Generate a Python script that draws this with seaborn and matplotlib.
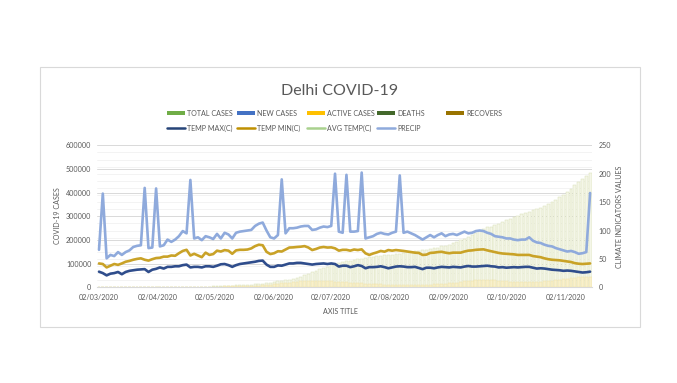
import numpy as np
import pandas as pd
import matplotlib
matplotlib.use('Agg')
import matplotlib.pyplot as plt
import seaborn as sns
from matplotlib.patches import Rectangle
from matplotlib.lines import Line2D
from matplotlib.ticker import MultipleLocator, StrMethodFormatter

# ---------------- data (every 2 days from 02/03/2020) ----------------
start_date = '2020-03-02'

total_cases = [1, 3, 3, 3, 4, 6, 7, 7, 10, 17,
               29, 30, 36, 40, 72, 152, 386, 503, 576, 720,
               1069, 1154, 1561, 1707, 1893, 2156, 2376, 2625, 2918, 3314,
               3515, 4549, 5104, 5532, 6318, 7233, 7998, 8895, 9755, 10554,
               11659, 12910, 14053, 15257, 17386, 19844, 22132, 25004, 27654, 29943,
               32810, 36824, 41182, 44688, 49979, 56746, 62655, 70390, 77240, 83077,
               87360, 92175, 97200, 100823, 104864, 109140, 112494, 115346, 118645, 121582,
               123747, 126323, 128389, 130606, 132275, 134403, 136716, 138482, 140232, 142723,
               145427, 147391, 149460, 151928, 153367, 156139, 158604, 161466, 164071, 167604,
               173390, 174748, 179569, 185220, 191449, 201174, 205482, 214069, 221533, 230269,
               238828, 246711, 253075, 256789, 264450, 267822, 277025, 282752, 290613, 295236,
               300833, 308000, 313000, 318000, 325000, 331000, 337000, 344000, 352000, 360000,
               370000, 381000, 392000, 403000, 417000, 431000, 445000, 459000, 472000, 482000]

active_cases = [1, 2, 2, 2, 3, 5, 5, 5, 7, 14,
                23, 24, 29, 30, 61, 140, 360, 470, 540, 680,
                1020, 1100, 1480, 1580, 1750, 1990, 2200, 2360, 2470, 2790,
                2290, 3220, 3380, 3500, 4000, 4800, 5100, 5400, 5600, 5700,
                6100, 6900, 7500, 8200, 9100, 10900, 12300, 14500, 16100, 17100,
                19600, 22000, 24000, 25000, 26600, 28300, 27800, 27500, 27000, 26300,
                26000, 25000, 24000, 22700, 21600, 21100, 19600, 18700, 17800, 16400,
                15300, 14900, 13700, 12700, 11900, 10800, 10400, 10200, 10200, 10100,
                10300, 10800, 11000, 10800, 10800, 11100, 11400, 11800, 12500, 13500,
                14600, 15000, 16500, 17900, 20000, 22700, 24600, 27600, 28600, 30900,
                32000, 32300, 31600, 30600, 28900, 27500, 26100, 25500, 23800, 22600,
                22000, 22500, 21800, 21200, 22000, 23100, 24500, 25600, 26500, 27600,
                29000, 31500, 33500, 35900, 37300, 40100, 41900, 42600, 44300, 44400]

temp_max = [27.5, 25, 21, 24, 25, 27, 23, 27, 29, 30,
            31, 31.5, 32, 27, 31, 32.5, 35, 33, 36, 36,
            37, 37, 39, 40, 35, 36, 36, 35, 37, 37,
            36, 38, 40.5, 41, 39, 36, 39, 41, 42, 43,
            44, 45, 46.5, 47, 40, 36, 36, 38.5, 38, 40,
            42, 42, 43, 43, 42, 41, 40, 41, 41.5, 42,
            41, 42, 41, 36.5, 38, 38, 35.5, 37, 39, 37.5,
            33.5, 35.5, 35.5, 36, 37, 35.5, 33.5, 35, 36.5, 37,
            36.5, 35.5, 35.5, 36, 34, 32, 34.5, 34.5, 33.5, 35,
            36, 35.5, 35, 36, 35.5, 35, 36.5, 37.5, 36.5, 36.5,
            37, 37.5, 38, 37, 36.5, 35, 35.5, 34.5, 35, 35.5,
            35, 35.5, 36, 36, 34.5, 33, 33.5, 33, 32, 31,
            30.5, 30, 29, 29.5, 29, 28, 27, 26, 26.5, 27.5]

temp_min = [42, 41, 35, 38, 41, 39.5, 42, 45, 46.5, 48.5,
            50, 51, 48.5, 47, 49.5, 51.5, 52, 54, 54, 56,
            55.5, 60, 64, 66, 56, 59, 56, 53, 61, 57,
            58.5, 64.5, 63, 65.5, 64.5, 59, 65, 66, 66, 66.5,
            68.5, 72.5, 75, 74, 62.5, 58.5, 60, 63.5, 63, 66.5,
            70, 70.3, 71, 71.5, 72.5, 70, 65.6, 67.5, 70, 71,
            70, 70.3, 68.6, 64.5, 66, 66, 64.5, 66.5, 65.6, 66.8,
            59.8, 57, 59.5, 61.5, 64, 62.7, 65.6, 64.5, 65.6, 64.8,
            64, 63, 62, 61, 60.5, 57, 57.5, 60.5, 61, 62,
            62.5, 61, 60, 61, 61, 61, 63, 64.5, 65, 66,
            66.5, 66.8, 65, 63.5, 62, 60.5, 59.5, 59, 58.5, 58,
            57, 57, 57, 57, 55, 54, 53, 51, 49.5, 48.5,
            48, 47.5, 46.5, 45.5, 44.5, 42.5, 41.5, 41, 41.5, 42]

precip = [66, 165, 51, 57, 55, 62, 57, 62, 65, 71,
          73, 74, 175, 69, 70, 174, 72, 74, 84, 80,
          84, 90, 99, 95, 189, 86, 88, 83, 90, 88,
          85, 94, 86, 96, 93, 86, 96, 98, 99, 100,
          101, 108, 112, 114, 100, 88, 86, 92, 190, 95,
          104, 104, 105, 107, 108, 108, 101, 102, 105, 107,
          106, 108, 200, 98, 96, 198, 98, 98, 99, 202,
          86, 88, 90, 94, 96, 94, 93, 96, 98, 197,
          96, 98, 95, 92, 88, 84, 88, 92, 88, 92,
          95, 90, 93, 94, 92, 95, 98, 95, 96, 99,
          100, 99, 96, 94, 90, 89, 88, 86, 86, 84,
          83, 84, 84, 88, 82, 79, 78, 75, 73, 72,
          69, 67, 65, 63, 64, 62, 59, 60, 62, 166]

tick_dates = ['2020-03-02', '2020-04-02', '2020-05-02', '2020-06-02', '2020-07-02',
              '2020-08-02', '2020-09-02', '2020-10-02', '2020-11-02']
tick_labels = ['02/03/2020', '02/04/2020', '02/05/2020', '02/06/2020', '02/07/2020',
               '02/08/2020', '02/09/2020', '02/10/2020', '02/11/2020']

bar_names = ['TOTAL CASES', 'NEW CASES', 'ACTIVE CASES', 'DEATHS', 'RECOVERS']
bar_colors = ['#70ad47', '#4472c4', '#ffc000', '#43682b', '#997300']
line_names = ['TEMP MAX(C)', 'TEMP MIN(C)', 'AVG TEMP(C)', 'PRECIP']
line_colors = ['#264478', '#bf9000', '#a9d18e', '#8faadc']

title = 'Delhi COVID-19'
left_title = 'COVID-19 CASES'
right_title = 'CLIMATE INDICATORS VALUES'
x_title = 'AXIS TITLE'

# ---------------- figure ----------------
sns.set_style('white')
plt.rcParams['font.family'] = ['Lato', 'DejaVu Sans']
TXT = '#595959'
FS = 5.1

W, H = 677, 383
fig = plt.figure(figsize=(W / 100, H / 100), dpi=100)
fig.patch.set_facecolor('white')


def fx(px):
    return px / W


def fy(py):
    return 1 - py / H


fig.add_artist(Rectangle((fx(40), fy(327)), fx(640) - fx(40), fy(67) - fy(327),
                         transform=fig.transFigure, fill=False,
                         edgecolor='#d9d9d9', linewidth=0.8))

ax1 = fig.add_axes([fx(97), fy(287.3), (592 - 97) / W, 142 / H])
ax2 = ax1.twinx()

start = pd.Timestamp(start_date)
dates = pd.date_range(start_date, periods=len(precip), freq='2D')
days = np.asarray((dates - start).days)
df = pd.DataFrame({'day': days, 'total': total_cases, 'active': active_cases,
                   'tmax': temp_max, 'tmin': temp_min, 'precip': precip})

sns.barplot(data=df, x='day', y='total', native_scale=True, orient='x', ax=ax1,
            color='#f4f6e8', edgecolor='#d9e0b6', linewidth=0.35, width=0.75,
            saturation=1, errorbar=None, zorder=2)
sns.barplot(data=df, x='day', y='active', native_scale=True, orient='x', ax=ax1,
            color='#f8f0cc', edgecolor='#eee0a6', linewidth=0.35, width=0.75,
            saturation=1, errorbar=None, zorder=3)

sns.lineplot(data=df, x='day', y='precip', ax=ax2, color=line_colors[3], linewidth=1.9)
sns.lineplot(data=df, x='day', y='tmin', ax=ax2, color='#c9a227', linewidth=1.9)
sns.lineplot(data=df, x='day', y='tmax', ax=ax2, color='#2f4d8c', linewidth=1.9)

ax1.set_xlim(-1.05, 259.0)
ax1.set_ylim(0, 600000)
ax2.set_ylim(0, 250)

tick_days = [(pd.Timestamp(d) - start).days for d in tick_dates]
ax1.set_xticks(tick_days)
ax1.set_xticklabels(tick_labels)
ax1.set_yticks(np.arange(0, 600001, 100000))
ax1.yaxis.set_major_formatter(StrMethodFormatter('{x:.0f}'))
ax1.yaxis.set_minor_locator(MultipleLocator(30000))
ax1.grid(axis='y', which='major', color='#d9d9d9', linewidth=0.7)
ax1.grid(axis='y', which='minor', color='#eeeeee', linewidth=0.5)
ax1.grid(axis='x', visible=False)
ax1.set_axisbelow(True)
ax1.tick_params(axis='both', which='both', length=0, labelsize=FS, labelcolor=TXT)
ax1.tick_params(axis='y', pad=4)
ax1.tick_params(axis='x', pad=5)
ax2.set_yticks(np.arange(0, 251, 50))
ax2.tick_params(axis='y', length=0, labelsize=FS, labelcolor=TXT, pad=4.5)
ax2.grid(False)

for s in ax1.spines.values():
    s.set_visible(False)
ax1.spines['bottom'].set_visible(True)
ax1.spines['bottom'].set_color('#d9d9d9')
for s in ax2.spines.values():
    s.set_visible(False)
for a in (ax1, ax2):
    a.set_xlabel('')
    a.set_ylabel('')
ax2.patch.set_visible(False)

# titles
fig.text(fx(340), fy(91), title, ha='center', va='center', fontsize=11.5, color=TXT)
fig.text(fx(58), fy(216), left_title, rotation=90, ha='center', va='center',
         fontsize=FS, color=TXT)
fig.text(fx(620), fy(216.7), right_title, rotation=90, ha='center', va='center',
         fontsize=FS, color=TXT)
fig.text(fx(340), fy(311), x_title, ha='center', va='center', fontsize=FS, color=TXT)

# legend (manual, Excel style)
row1_x = [167, 237, 307, 377, 446]
row2_x = [167, 237, 307, 377]
r1, r2 = 113.3, 128.3
for x0, name, col in zip(row1_x, bar_names, bar_colors):
    fig.add_artist(Rectangle((fx(x0), fy(r1 + 2)), 18 / W, 4 / H,
                             transform=fig.transFigure, facecolor=col, edgecolor='none'))
    fig.text(fx(x0 + 20), fy(r1), name, ha='left', va='center', fontsize=FS, color=TXT)
for x0, name, col in zip(row2_x, line_names, line_colors):
    fig.add_artist(Line2D([fx(x0), fx(x0 + 18)], [fy(r2), fy(r2)],
                          transform=fig.transFigure, color=col, linewidth=1.8))
    fig.text(fx(x0 + 20), fy(r2), name, ha='left', va='center', fontsize=FS, color=TXT)

fig.savefig('out.png', dpi=100)
